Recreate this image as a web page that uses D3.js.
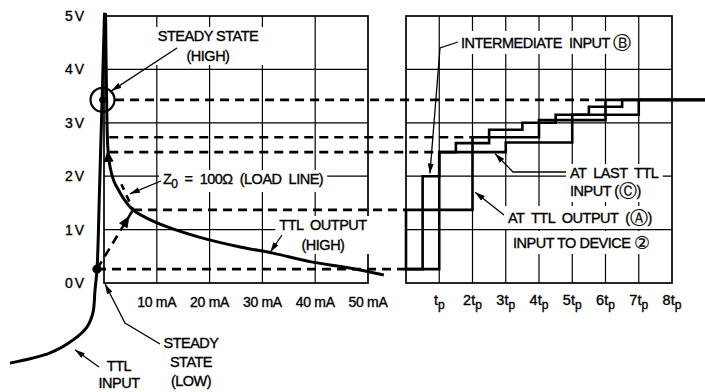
<!DOCTYPE html>
<html><head><meta charset="utf-8">
<script src="https://cdn.jsdelivr.net/npm/d3@7"></script>
<style>
body{margin:0;background:#fff}
svg text{font-family:"Liberation Sans",Arial,sans-serif;fill:#000;white-space:pre;stroke:#000;stroke-width:0.35}
</style></head><body>
<svg id="c" width="705" height="392"></svg>
<script>
// ---------- data ----------
const voltTicks = [0, 1, 2, 3, 4, 5];
const voltLabels = ["0V", "1V", "2V", "3V", "4V", "5V"];
const currentTicks = [10, 20, 30, 40, 50];
const currentLabels = ["10 mA", "20 mA", "30 mA", "40 mA", "50 mA"];
const timeTicks = [1, 2, 3, 4, 5, 6, 7, 8];
const timePrefixes = ["", "2", "3", "4", "5", "6", "7", "8"];

// TTL output (HIGH) characteristic: [mA, V]
const ttlOutputHigh = [[0.3, 5.05], [0.5, 3.43], [0.75, 2.5], [1.2, 2.15], [1.9, 1.9], [2.7, 1.75],
  [3.8, 1.57], [5.5, 1.37], [8, 1.22], [12, 1.05], [18, 0.86], [26, 0.67], [32, 0.56],
  [39, 0.40], [46.5, 0.28], [53, 0.15]];
// TTL input characteristic: [mA, V]
const ttlInput = [[0.1, 5.06], [-0.4, 3.3], [-0.85, 1.75], [-1.32, 0.26], [-1.7, -0.13],
  [-2.1, -0.56], [-3.2, -0.82], [-5.9, -1.07], [-10.2, -1.31], [-17.8, -1.5]];
const loadLine = [[-1.32, 0.26], [5.5, 1.37]];
const reflectedLine = [[5.5, 1.37], [3.3, 1.85]];
const steadyHigh = [-0.28, 3.43];
const steadyLow = [-1.32, 0.26];

// projected voltage levels: start current (mA) on left, end time (tp) on right
const levelVolts = [3.43, 2.73, 2.45, 1.37, 0.26];
const levelStartmA = [2.1, 1.0, 1.0, 5.5, -1.32];
const levelEndTp = [6, 2, 1, 0, 0];

// step waveforms: change times (tp) and successive levels (V)
const aTimes = [0, 2, 4, 6];
const aVolts = [0.26, 1.37, 2.73, 3.05, 3.43];
const bTimes = [0.5, 1, 1.5, 2.5, 3.5, 4.5, 5.5, 6.5];
const bVolts = [0.26, 2.0, 2.45, 2.62, 2.87, 3.0, 3.15, 3.3, 3.43];
const cTimes = [1, 3, 5, 7];
const cVolts = [0.26, 2.45, 2.63, 3.15, 3.43];
const tEnd = 9;

// ---------- scales ----------
const svg = d3.select("#c");
const xL = d3.scaleLinear().domain([0, 50]).range([104, 368]);
const xR = d3.scaleLinear().domain([0, 8]).range([406, 672]);
const yV = d3.scaleLinear().domain([0, 5]).range([283, 16]);

// ---------- grid ----------
const grid = svg.append("g").attr("stroke", "#000").attr("fill", "none");
function panelGrid(x, xs, x0, x1) {
  xs.forEach(v => grid.append("line").attr("x1", x(v)).attr("x2", x(v))
    .attr("y1", yV(0)).attr("y2", yV(5)).attr("stroke-width", 1.2));
  [1, 2, 3, 4].forEach(v => grid.append("line").attr("x1", x(x0)).attr("x2", x(x1))
    .attr("y1", yV(v)).attr("y2", yV(v)).attr("stroke-width", 1.2));
  grid.append("rect").attr("x", x(x0)).attr("y", yV(5)).attr("width", x(x1) - x(x0))
    .attr("height", yV(0) - yV(5)).attr("stroke-width", 1.7);
}
panelGrid(xL, [10, 20, 30, 40], 0, 50);
panelGrid(xR, [1, 2, 3, 4, 5, 6, 7], 0, 8);

// ---------- axis labels ----------
const ax = svg.append("g");
voltTicks.forEach((v, i) => ax.append("text").attr("x", 86).attr("y", yV(v) + 5)
  .attr("text-anchor", "end").attr("font-size", 14).attr("letter-spacing", 2).text(voltLabels[i]));
currentTicks.forEach((v, i) => ax.append("text").attr("x", xL(v)).attr("y", 307)
  .attr("text-anchor", "middle").attr("font-size", 14).attr("letter-spacing", -0.3).text(currentLabels[i]));
timeTicks.forEach((v, i) => {
  const t = ax.append("text").attr("x", xR(v)).attr("y", 305).attr("text-anchor", "middle").attr("font-size", 14.5);
  t.append("tspan").text(timePrefixes[i] + "t");
  t.append("tspan").attr("font-size", 12).attr("dy", 4).text("p");
});

// ---------- label boxes ----------
const labG = svg.append("g");
function label(x, y, lines, anchor, lh) {
  const g = labG.append("g");
  const bg = g.append("rect").attr("fill", "#fff").attr("stroke", "none");
  lines.forEach((ln, i) => {
    const t = g.append("text").attr("x", x).attr("y", y + i * lh).attr("text-anchor", anchor)
      .attr("font-size", 14.5).attr("letter-spacing", -0.5);
    ln.forEach(part => {
      const s = t.append("tspan").text(part.t);
      if (part.sub) s.attr("font-size", 12).attr("dy", 4);
      if (part.up) s.attr("dy", -4);
      if (part.circ) s.attr("font-family", "DejaVu Sans").attr("font-size", 18).attr("dy", 1).attr("stroke-width", 0.2).attr("letter-spacing", 0);
      if (part.back) s.attr("dy", -1);
    });
  });
  const b = g.node().getBBox();
  bg.attr("x", b.x - 4).attr("y", b.y - 1).attr("width", b.width + 8).attr("height", b.height + 2);
}
label(208, 41, [[{t: "STEADY STATE"}], [{t: "(HIGH)"}]], "middle", 20);
label(163, 184, [[{t: "Z"}, {t: "0", sub: 1}, {t: "  =  100Ω  (LOAD  LINE)", up: 1}]], "start", 0);
label(323, 230, [[{t: "TTL  OUTPUT"}], [{t: "(HIGH)"}]], "middle", 20);
label(191, 348, [[{t: "STEADY"}], [{t: "STATE"}], [{t: "(LOW)"}]], "middle", 19);
label(119, 371, [[{t: "TTL"}], [{t: "INPUT"}]], "middle", 17);
label(461, 48, [[{t: "INTERMEDIATE  INPUT "}, {t: "Ⓑ", circ: 1}]], "start", 0);
label(570, 178, [[{t: "AT  LAST  TTL"}], [{t: "INPUT ("}, {t: "Ⓒ", circ: 1}, {t: ")", back: 1}]], "start", 18);
label(508, 223, [[{t: "AT  TTL  OUTPUT  ("}, {t: "Ⓐ", circ: 1}, {t: ")", back: 1}]], "start", 0);
label(513, 248, [[{t: "INPUT TO DEVICE "}, {t: "②", circ: 1}]], "start", 0);

// ---------- data marks ----------
const data = svg.append("g").attr("fill", "none").attr("stroke", "#000");
const lineL = d3.line().x(d => xL(d[0])).y(d => yV(d[1]));
const curveL = d3.line().x(d => xL(d[0])).y(d => yV(d[1])).curve(d3.curveCatmullRom.alpha(0.5));

// dashed projections
levelVolts.forEach((v, i) => data.append("line")
  .attr("x1", xL(levelStartmA[i])).attr("x2", xR(levelEndTp[i]))
  .attr("y1", yV(v)).attr("y2", yV(v))
  .attr("stroke-width", 2.6).attr("stroke-dasharray", "9,6"));

data.append("path").attr("d", lineL(loadLine)).attr("stroke-width", 2.6).attr("stroke-dasharray", "9,6");
data.append("path").attr("d", lineL(reflectedLine)).attr("stroke-width", 2.6).attr("stroke-dasharray", "7,6").attr("stroke-dashoffset", 4);

data.append("path").attr("d", curveL(ttlInput)).attr("stroke-width", 3);
data.append("path").attr("d", curveL(ttlOutputHigh)).attr("stroke-width", 3);

// steady state markers
data.append("circle").attr("cx", xL(steadyHigh[0])).attr("cy", yV(steadyHigh[1])).attr("r", 12).attr("stroke-width", 2.2);
data.append("circle").attr("cx", xL(steadyHigh[0])).attr("cy", yV(steadyHigh[1])).attr("r", 3).attr("fill", "#000");
data.append("circle").attr("cx", xL(steadyLow[0])).attr("cy", yV(steadyLow[1])).attr("r", 4.2).attr("fill", "#000");

// filled direction triangles
function tri(px, py, ang) {
  const p = [[7, 0], [-5, -5], [-5, 5]].map(([a, b]) => [px + a * Math.cos(ang) - b * Math.sin(ang), py + a * Math.sin(ang) + b * Math.cos(ang)]);
  data.append("path").attr("d", "M" + p.join("L") + "Z").attr("fill", "#000").attr("stroke", "none");
}
{
  const a = loadLine[0], b = loadLine[1], f = 0.8;
  const px = xL(a[0] + (b[0] - a[0]) * f), py = yV(a[1] + (b[1] - a[1]) * f);
  tri(px, py, Math.atan2(yV(b[1]) - yV(a[1]), xL(b[0]) - xL(a[0])));
  tri(xL(0.8), yV(2.36), Math.atan2(yV(2.6) - yV(2.36), xL(0.6) - xL(0.8)));
}

// step waveforms
function steps(times, volts) {
  const pts = [[0, volts[0]]];
  times.forEach((t, i) => { pts.push([t, volts[i]]); pts.push([t, volts[i + 1]]); });
  pts.push([tEnd, volts[volts.length - 1]]);
  return pts;
}
const lineR = d3.line().x(d => xR(d[0])).y(d => yV(d[1]));
[[aTimes, aVolts], [bTimes, bVolts], [cTimes, cVolts]].forEach(([t, v]) =>
  data.append("path").attr("d", lineR(steps(t, v))).attr("stroke-width", 2.6).attr("stroke-linejoin", "miter"));

// ---------- leaders ----------
const defs = svg.append("defs");
defs.append("marker").attr("id", "ah").attr("viewBox", "0 0 10 6").attr("refX", 10).attr("refY", 3)
  .attr("markerWidth", 10).attr("markerHeight", 6).attr("markerUnits", "userSpaceOnUse").attr("orient", "auto")
  .append("path").attr("d", "M0,0L10,3L0,6Z").attr("fill", "#000");
const lead = svg.append("g").attr("fill", "none").attr("stroke", "#000").attr("stroke-width", 1.3);
function leader(pts) {
  lead.append("path").attr("d", d3.line()(pts)).attr("marker-end", "url(#ah)");
}
leader([[177, 48], [xL(steadyHigh[0]) + 9, yV(steadyHigh[1]) - 9]]);
leader([[161, 181], [xL(4.9), yV(1.67)]]);
leader([[282, 235], [xL(31.5), yV(0.58)]]);
leader([[160, 344], [125, 323], [xL(0.2), yV(-0.02)]]);
leader([[99, 367], [xL(-5.5), yV(-1.25)]]);
leader([[458, 42], [440, 48], [xR(0.72), yV(2.05)]]);
leader([[566, 172], [513, 172], [xR(2.68), yV(2.42)]]);
leader([[504, 215], [xR(2.08), yV(1.7)]]);
</script>
</body></html>
